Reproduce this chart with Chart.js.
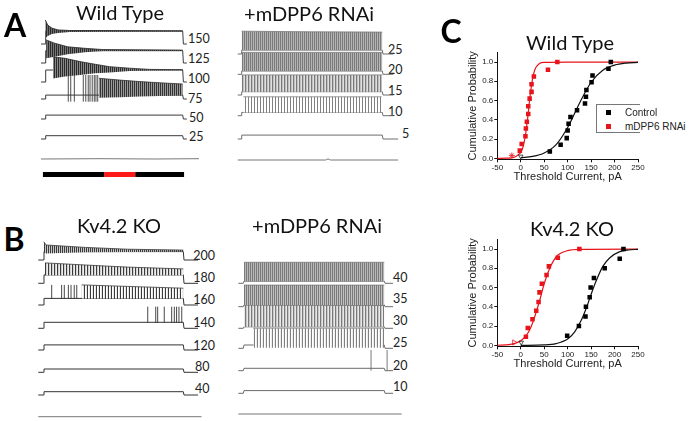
<!DOCTYPE html>
<html><head><meta charset="utf-8">
<script src="https://cdn.jsdelivr.net/npm/chart.js@4.4.1/dist/chart.umd.min.js"></script>
<style>
html,body{margin:0;padding:0;background:#fff;}
#page{position:relative;width:698px;height:421px;overflow:hidden;background:#fff;}
canvas{position:absolute;}
.t{position:absolute;white-space:nowrap;line-height:1;color:#1a1a1a;}
.c{transform:translate(-50%,-50%);}
.l{transform:translate(0,-50%);}
</style></head><body><div id="page"></div>
<script>
// ================= DATA =================
// Panel C – cumulative probability of threshold current (pA)
const X_TICKS = [-50, 0, 50, 100, 150, 200, 250];
const Y_TICKS = [0, 0.2, 0.4, 0.6, 0.8, 1.0];

const WT_CTRL_X = [62, 85, 98, 100, 102, 106, 120, 137, 139, 140, 151, 153, 187, 192];
const WT_CTRL_P = [0.07, 0.14, 0.21, 0.29, 0.36, 0.43, 0.50, 0.57, 0.64, 0.71, 0.79, 0.86, 0.93, 1.00];
const WT_RNAI_X = [-2, 2, 10, 11, 13, 16, 16, 19, 23, 23, 28, 58, 78];
const WT_RNAI_P = [0.08, 0.15, 0.23, 0.31, 0.38, 0.46, 0.54, 0.62, 0.69, 0.77, 0.85, 0.92, 1.00];
const WT_CTRL_OPEN_X = [0],   WT_CTRL_OPEN_P = [0.02];
const WT_RNAI_OPEN_X = [-19], WT_RNAI_OPEN_P = [0.03];
const WT_CTRL_FIT_X = [0, 25, 50, 75, 100, 118, 125, 150, 175, 200, 225, 250];
const WT_CTRL_FIT_P = [0.007, 0.02, 0.056, 0.14, 0.32, 0.50, 0.57, 0.79, 0.915, 0.968, 0.989, 0.996];
const WT_RNAI_FIT_X = [-50, -30, -20, -10, -5, 0, 5, 10, 15, 20, 25, 30, 40, 50, 100, 250];
const WT_RNAI_FIT_P = [0, 0.002, 0.005, 0.02, 0.04, 0.06, 0.12, 0.24, 0.43, 0.65, 0.82, 0.92, 0.985, 0.997, 1.0, 1.0];

const KO_CTRL_X = [99, 124, 138, 139, 147, 149, 156, 179, 211, 219];
const KO_CTRL_P = [0.1, 0.2, 0.3, 0.4, 0.5, 0.6, 0.7, 0.8, 0.9, 1.0];
const KO_RNAI_X = [11, 15, 25, 33, 38, 40, 45, 55, 60, 79, 125];
const KO_RNAI_P = [0.09, 0.18, 0.27, 0.36, 0.45, 0.55, 0.64, 0.73, 0.82, 0.91, 1.00];
const KO_CTRL_OPEN_X = [1],   KO_CTRL_OPEN_P = [0.03];
const KO_RNAI_OPEN_X = [-14], KO_RNAI_OPEN_P = [0.03];
const KO_CTRL_FIT_X = [0, 50, 75, 100, 115, 130, 140, 150, 160, 175, 190, 210, 230, 250];
const KO_CTRL_FIT_P = [0.0, 0.004, 0.017, 0.065, 0.14, 0.27, 0.39, 0.53, 0.66, 0.82, 0.91, 0.97, 0.99, 0.997];
const KO_RNAI_FIT_X = [-50, -25, -10, 0, 10, 20, 30, 40, 50, 60, 70, 80, 100, 125, 250];
const KO_RNAI_FIT_P = [0.001, 0.008, 0.024, 0.047, 0.092, 0.17, 0.30, 0.46, 0.64, 0.78, 0.88, 0.94, 0.984, 0.997, 1.0];

// Panels A/B – voltage traces (ms, mV above rest); envelopes = [ms, top mV, bottom mV]
const STEP_MS = [0, 1000];
const RISE_MS = 5;

const WT_CURRENTS = [150, 125, 100, 75, 50, 25];
const WT_STEP_MV  = [43, 41, 40, 13, 13, 11];
const WT150_ENV = [[2,80,20],[20,63,27],[50,53,33],[95,47,37],[180,45,40],[400,45,41],[1000,44,42]];
const WT125_ENV = [[8,77,16],[70,66,21],[165,54,29],[290,49,36],[415,45,40],[1000,43,40]];
const WT100_ENV = [[58,84,12],[145,79,18],[255,68,23],[365,59,29],[470,51,32],[615,46,37],[760,42,38],[1000,41,39]];
const WT75_ENV  = [[392,69,4],[545,63,6],[690,58,8],[835,54,10],[1000,50,12]];
const WT75_SPIKE_MS = [169, 187, 213, 278, 296, 314, 327, 343, 358, 370, 383];
const WT75_SPIKE_MV = [80, -9];
const WT_FLAT = [[-29,0],[400,1],[800,0],[1118,1]];
const TIME_BAR_MS = [-15, 430, 655, 1010];

const RA_CURRENTS = [25, 20, 15, 10, 5];
const RA_STEP_MV  = [13, 11, 11, 11, 13];
const RA25_ENV = [[5,76,13],[500,74,13],[1000,73,13]];
const RA20_ENV = [[5,73,11],[1000,73,11]];
const RA15_ENV = [[5,67,11],[1000,67,11]];
const RA10_ENV = [[16,63,11],[995,63,11]];
const RA_FLAT = [[-23,0],[600,0],[616,4],[632,0],[1112,0]];

const KO_CURRENTS = [200, 180, 160, 140, 120, 80, 40];
const KO_STEP_MV  = [28, 28, 22, 20, 17, 11, 11];
const KO200_ENV = [[3,61,24],[20,50,22],[300,42,26],[600,36,27],[1000,33,28]];
const KO180_ENV = [[12,68,27],[300,61,27],[600,54,27],[1000,48,27]];
const KO160_ENV = [[274,67,22],[600,62,22],[1000,56,22]];
const KO160_SPIKE_MS = [60, 131, 150, 179, 198, 221, 239];
const KO160_SPIKE_MV = [67, 20];
const KO140_SPIKE_MS = [746, 803, 817, 864, 917, 936, 952, 969, 989];
const KO140_SPIKE_MV = [72, 18];
const KO_FLAT = [[-36,0],[1130,0]];

const RB_CURRENTS = [40, 35, 30, 25, 20, 10];
const RB_STEP_MV  = [7, 6, 5, 11, 8, 9];
const RB40_ENV = [[5,70,7],[1000,70,7]];
const RB35_ENV = [[5,72,6],[1000,72,6]];
const RB30_ENV = [[5,78,5],[1000,76,5]];
const RB25_ENV = [[71,67,2],[1000,67,2]];
const RB20_SPIKE_MS = [906, 1020];
const RB20_SPIKE_MV = [69, 0];
const RB_FLAT = [[-35,0],[1123,0]];

// ================= LAYOUT / STYLE =================
const MV_PX = 0.3;
const RED = '#e8141c';
const LAYOUT = {
  wt: {box:[30,15,190,170], t0:45, t1000:182.7, pre:-29, tail:[1030,1030,1030,1030,1030,1030],
       rows:[44,63,82,99,119,139], flatRow:159, barRow:174.5, line:'#3a3a3a',
       labelX:[188,188,188,188,189,189], labelY:[38,57.7,78,97.7,116.7,136],
       stripes:{150:['#2b2b2b','#6f6f6f'],125:['#2b2b2b','#777777'],100:['#2b2b2b','#888888'],75:['#333333','#9a9a9a']}},
  ra: {box:[230,25,180,145], t0:241, t1000:382.3, pre:-23, tail:[1078,1078,1078,1078,1112],
       rows:[54,74.3,95,115.7,139], flatRow:160, line:'#6e6e6e',
       labelX:[388,388,388,388,402], labelY:[49,69.3,90,111,132.7],
       stripes:{25:['#7a7a7a','#b5b5b5'],20:['#7a7a7a','#b5b5b5'],15:['#7a7a7a','#c0c0c0','#e0e0e0'],10:['#808080','#ffffff','#ffffff']}},
  ko: {box:[30,235,185,186], t0:43.3, t1000:183.3, pre:-36, tail:[1105,1105,1105,1105,1105,1105,1105],
       rows:[260,283.3,305,328.3,350,372.3,395], flatRow:416.7, line:'#333333',
       labelX:[193.3,193.3,193.3,193.3,193.3,195,195], labelY:[255,277.3,299.3,322.3,345,365.7,388.3],
       stripes:{200:['#3a3a3a','#c8c8c8'],180:['#3a3a3a','#d0d0d0','#eeeeee'],160:['#3a3a3a','#ffffff','#e8e8e8']}},
  rb: {box:[230,250,180,171], t0:243.3, t1000:384.3, pre:-35, tail:[1062,1062,1062,1062,1062,1062],
       rows:[283.3,306.7,328.3,348.3,370.7,393.3], flatRow:414, line:'#6a6a6a',
       labelX:[393,393,393,393,393,393], labelY:[276.7,298.3,320,342.3,365,385.7],
       stripes:{40:['#7a7a7a','#b8b8b8'],35:['#7a7a7a','#c0c0c0'],30:['#7a7a7a','#c8c8c8','#e8e8e8'],25:['#808080','#ffffff','#eeeeee']}}
};

const page = document.getElementById('page');
Chart.defaults.font.family = 'Liberation Sans';

function addText(txt, x, y, css, cls) {
  const d = document.createElement('div');
  d.className = 't ' + (cls || 'c');
  d.textContent = txt;
  d.style.left = x + 'px'; d.style.top = y + 'px';
  Object.assign(d.style, css || {});
  page.appendChild(d);
  return d;
}
function mkCanvas(box) {
  const c = document.createElement('canvas');
  c.width = box[2]; c.height = box[3];
  c.style.left = box[0] + 'px'; c.style.top = box[1] + 'px';
  c.style.width = box[2] + 'px'; c.style.height = box[3] + 'px';
  page.appendChild(c);
  return c;
}
function stripe(colors) {
  const c = document.createElement('canvas');
  c.width = colors.length; c.height = 1;
  const x = c.getContext('2d');
  colors.forEach((col, i) => { x.fillStyle = col; x.fillRect(i, 0, 1, 1); });
  return x.createPattern(c, 'repeat');
}
const zip = (xs, ys) => xs.map((x, i) => ({x, y: ys[i]}));

// ---------- trace panels ----------
function traceChart(g, spec) {
  const [L, T, W, H] = g.box;
  const k = (g.t1000 - g.t0) / 1000;
  const base = p => (T - p) / MV_PX;
  const ds = [];
  const [on, off] = STEP_MS;
  spec.currents.forEach((cur, i) => {
    const b = base(g.rows[i]);
    const st = spec.step[i];
    const env = spec.env[cur];
    if (env) {
      const cols = g.stripes[cur];
      ds.push({data: env.map(e => ({x: e[0], y: b + e[1]})), borderColor: cols[0], borderWidth: 0.8, fill: false});
      ds.push({data: env.map(e => ({x: e[0], y: b + e[2]})), borderWidth: 0, borderColor: 'rgba(0,0,0,0)', fill: '-1', backgroundColor: stripe(cols)});
    }
    const sp = spec.spikes[cur];
    if (sp) {
      const pts = [];
      sp.t.forEach(t => { pts.push({x: t, y: b + sp.mv[1]}, {x: t, y: b + sp.mv[0]}, {x: t, y: null}); });
      ds.push({data: pts, borderColor: g.line, borderWidth: 0.9, spanGaps: false, fill: false});
    }
    ds.push({data: [{x: g.pre, y: b}, {x: on, y: b}, {x: on + RISE_MS, y: b + st}, {x: off, y: b + st},
                    {x: off + RISE_MS, y: b}, {x: g.tail[i], y: b}], borderColor: g.line, borderWidth: 1, fill: false});
    addText(String(cur), g.labelX[i], g.labelY[i], {font: '12.5px Lato', color: '#222'}, 'l');
  });
  const fb = base(g.flatRow);
  ds.push({data: spec.flat.map(p => ({x: p[0], y: fb + p[1]})), borderColor: '#777', borderWidth: 1, fill: false});
  if (spec.bar) {
    const bb = base(g.barRow);
    const [a, r1, r2, e] = spec.bar;
    ds.push({data: [{x: a, y: bb}, {x: r1, y: bb}], borderColor: '#000', borderWidth: 5, borderCapStyle: 'butt', fill: false});
    ds.push({data: [{x: r1, y: bb}, {x: r2, y: bb}], borderColor: '#ff1a1a', borderWidth: 5, borderCapStyle: 'butt', fill: false});
    ds.push({data: [{x: r2, y: bb}, {x: e, y: bb}], borderColor: '#000', borderWidth: 5, borderCapStyle: 'butt', fill: false});
  }
  new Chart(mkCanvas(g.box), {
    type: 'line',
    data: {datasets: ds},
    options: {
      responsive: false, animation: false, devicePixelRatio: 1,
      layout: {padding: 0},
      elements: {point: {radius: 0}, line: {tension: 0}},
      plugins: {legend: {display: false}, tooltip: {enabled: false}},
      scales: {
        x: {type: 'linear', display: false, min: (L - g.t0) / k, max: (L + W - g.t0) / k},
        y: {type: 'linear', display: false, min: -H / MV_PX, max: 0}
      }
    }
  });
}

traceChart(LAYOUT.wt, {currents: WT_CURRENTS, step: WT_STEP_MV,
  env: {150: WT150_ENV, 125: WT125_ENV, 100: WT100_ENV, 75: WT75_ENV},
  spikes: {75: {t: WT75_SPIKE_MS, mv: WT75_SPIKE_MV}}, flat: WT_FLAT, bar: TIME_BAR_MS});
traceChart(LAYOUT.ra, {currents: RA_CURRENTS, step: RA_STEP_MV,
  env: {25: RA25_ENV, 20: RA20_ENV, 15: RA15_ENV, 10: RA10_ENV}, spikes: {}, flat: RA_FLAT});
traceChart(LAYOUT.ko, {currents: KO_CURRENTS, step: KO_STEP_MV,
  env: {200: KO200_ENV, 180: KO180_ENV, 160: KO160_ENV},
  spikes: {160: {t: KO160_SPIKE_MS, mv: KO160_SPIKE_MV}, 140: {t: KO140_SPIKE_MS, mv: KO140_SPIKE_MV}}, flat: KO_FLAT});
traceChart(LAYOUT.rb, {currents: RB_CURRENTS, step: RB_STEP_MV,
  env: {40: RB40_ENV, 35: RB35_ENV, 30: RB30_ENV, 25: RB25_ENV},
  spikes: {20: {t: RB20_SPIKE_MS, mv: RB20_SPIKE_MV}}, flat: RB_FLAT});

// ---------- cumulative probability panels ----------
function cumChart(box, pad, xAxisH, d) {
  const ds = [
    {data: zip(d.cx, d.cp), pointStyle: 'rect', pointRadius: 3.2, backgroundColor: '#000', borderColor: '#000', borderWidth: 0, order: 1},
    {data: zip(d.rx, d.rp), pointStyle: 'rect', pointRadius: 3.2, backgroundColor: RED, borderColor: RED, borderWidth: 0, order: 1},
    {data: zip(d.cox, d.cop), pointStyle: 'triangle', rotation: 180, pointRadius: 2.6, backgroundColor: 'rgba(0,0,0,0)', borderColor: '#222', borderWidth: 0.8, order: 1},
    {data: zip(d.rox, d.rop), pointStyle: d.rStyle, rotation: d.rRot, pointRadius: 3, backgroundColor: 'rgba(0,0,0,0)', borderColor: RED, borderWidth: 0.8, order: 1},
    {data: zip(d.cfx, d.cfp), showLine: true, pointRadius: 0, borderColor: '#111', borderWidth: 1.2, cubicInterpolationMode: 'monotone', order: 2},
    {data: zip(d.rfx, d.rfp), showLine: true, pointRadius: 0, borderColor: RED, borderWidth: 1.2, cubicInterpolationMode: 'monotone', order: 2}
  ];
  const axisCommon = {
    grid: {drawOnChartArea: false, drawTicks: true, tickLength: 3, color: '#111', lineWidth: 1},
    border: {display: true, color: '#111', width: 1},
  };
  new Chart(mkCanvas(box), {
    type: 'scatter',
    data: {datasets: ds},
    options: {
      responsive: false, animation: false, devicePixelRatio: 1,
      layout: {padding: pad},
      plugins: {legend: {display: false}, tooltip: {enabled: false}},
      scales: {
        x: Object.assign({type: 'linear', min: -50, max: 250,
          afterBuildTicks: s => { s.ticks = X_TICKS.map(v => ({value: v})); },
          afterFit: s => { s.height = xAxisH; },
          ticks: {padding: 1, color: '#222', font: {size: 8}, maxRotation: 0, autoSkip: false, callback: v => String(v)},
          title: {display: true, text: 'Threshold Current, pA', color: '#222', font: {size: 11}, padding: 0}}, axisCommon),
        y: Object.assign({type: 'linear', min: -0.01, max: 1.1,
          afterBuildTicks: s => { s.ticks = Y_TICKS.map(v => ({value: v})); },
          afterFit: s => { s.width = 30.6; },
          ticks: {padding: 1, color: '#222', font: {size: 8}, callback: v => Number(v).toFixed(1)},
          title: {display: true, text: 'Cumulative Probability', color: '#222', font: {size: 11}, padding: 0}}, axisCommon)
      }
    }
  });
}

cumChart([440, 40, 258, 150], {left: 26.7, right: 60, top: 12.4, bottom: 6.7}, 24, {
  cx: WT_CTRL_X, cp: WT_CTRL_P, rx: WT_RNAI_X, rp: WT_RNAI_P,
  cox: WT_CTRL_OPEN_X, cop: WT_CTRL_OPEN_P, rox: WT_RNAI_OPEN_X, rop: WT_RNAI_OPEN_P, rStyle: 'star', rRot: 0,
  cfx: WT_CTRL_FIT_X, cfp: WT_CTRL_FIT_P, rfx: WT_RNAI_FIT_X, rfp: WT_RNAI_FIT_P});
cumChart([440, 228, 258, 150], {left: 26.7, right: 60, top: 11.4, bottom: 7.7}, 24, {
  cx: KO_CTRL_X, cp: KO_CTRL_P, rx: KO_RNAI_X, rp: KO_RNAI_P,
  cox: KO_CTRL_OPEN_X, cop: KO_CTRL_OPEN_P, rox: KO_RNAI_OPEN_X, rop: KO_RNAI_OPEN_P, rStyle: 'triangle', rRot: 90,
  cfx: KO_CTRL_FIT_X, cfp: KO_CTRL_FIT_P, rfx: KO_RNAI_FIT_X, rfp: KO_RNAI_FIT_P});

// legend (Wild Type panel)
const lg = document.createElement('div');
Object.assign(lg.style, {position: 'absolute', left: '596px', top: '104px', width: '43px', height: '27px',
  borderLeft: '1px solid #777', borderTop: '1px solid #777', borderBottom: '1px solid #777'});
page.appendChild(lg);
[['Control', '#000', 112], ['mDPP6 RNAi', RED, 126]].forEach(([txt, col, y]) => {
  const m = document.createElement('div');
  Object.assign(m.style, {position: 'absolute', left: '606px', top: (y - 2.5) + 'px', width: '5px', height: '5px', background: col});
  page.appendChild(m);
  addText(txt, 625, y, {font: '10px "Liberation Sans"', color: '#222', background: '#fff'}, 'l');
});

// titles & panel letters
const TF = {font: '20px Lato', color: '#111'};
addText('Wild Type', 120, 12, TF);
addText('+mDPP6 RNAi', 309, 13, TF);
addText('Kv4.2 KO', 119, 225, TF);
addText('+mDPP6 RNAi', 317, 225, TF);
addText('Wild Type', 570, 42, TF);
addText('Kv4.2 KO', 572, 228, TF);
const LF = {font: 'bold 32px Lato', color: '#000'};
addText('A', 15, 24, LF);
addText('B', 14, 238, LF);
addText('C', 451, 30, LF);
</script></body></html>
